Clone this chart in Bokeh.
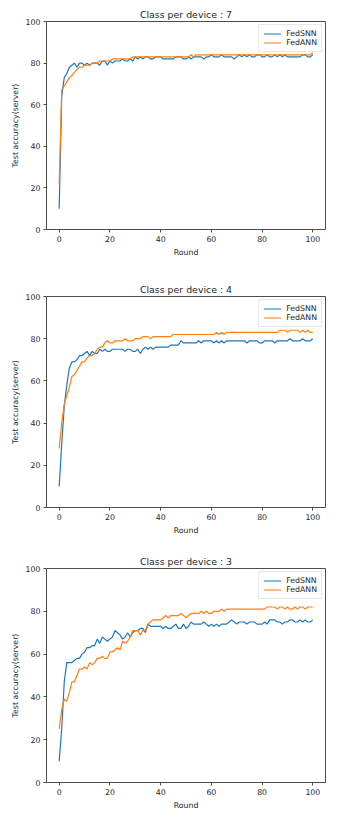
from bokeh.plotting import figure
from bokeh.layouts import column
from bokeh.models import Range1d, FixedTicker, Legend, LegendItem
from bokeh.embed import file_html
from bokeh.resources import INLINE

rounds = list(range(101))

snn_7 = [10, 64, 73, 75, 78, 79, 80, 78, 80, 80, 79, 80, 79, 80, 80, 80, 79, 81, 81, 79,
         81, 80, 81, 81, 81, 82, 81, 81, 82, 81, 83, 82, 83, 82, 83, 83, 82, 82, 83, 83,
         83, 82, 82, 82, 82, 82, 83, 83, 83, 82, 82, 83, 82, 83, 83, 83, 83, 82, 83, 83,
         84, 83, 83, 83, 84, 83, 83, 83, 83, 82, 83, 84, 83, 84, 83, 84, 83, 83, 84, 84,
         83, 83, 84, 83, 83, 84, 83, 84, 83, 84, 83, 83, 83, 83, 83, 83, 84, 84, 83, 83,
         84]
ann_7 = [22, 67, 69, 71, 73, 74, 75.5, 77, 78, 78, 79, 79, 79, 80, 80, 80, 81, 81, 81, 81,
         81, 82, 82, 82, 82, 82, 82, 82, 82, 83, 83, 83, 83, 83, 83, 83, 83, 83, 83, 83,
         83, 83, 83, 83, 83, 83, 83, 83, 83, 83, 83, 83, 84, 83, 84, 84, 84, 84, 84, 84,
         84, 84, 84, 84, 84, 84, 84, 84, 84, 84, 84, 84, 84, 84, 84, 84, 84, 84, 84, 84,
         84, 84, 84, 84, 84, 84, 84, 84, 84, 84, 84, 84, 84, 84, 84, 84, 84, 84, 84, 84,
         85]

snn_4 = [10, 30, 48, 58, 66, 69, 69, 70, 72, 72, 73, 74, 72, 74, 73, 73, 75, 74, 75, 74,
         74, 75, 75, 75, 75, 75, 74, 75, 75, 74, 74, 75, 73, 75, 76, 75, 76, 75, 76, 76,
         76, 76, 76, 76, 77, 77, 77, 77, 79, 78, 78, 78, 78, 78, 78, 79, 78, 79, 79, 79,
         79, 78, 79, 78, 79, 78, 79, 79, 79, 79, 79, 79, 79, 79, 78, 79, 79, 79, 79, 78,
         78, 79, 79, 79, 79, 78, 79, 79, 79, 79, 79, 80, 79, 79, 79, 79, 80, 79, 79, 79,
         80]
ann_4 = [28, 40, 49, 53, 57, 62, 63, 65, 67, 69, 69, 71, 72, 72, 73, 75, 76, 76, 78, 79,
         78, 78, 79, 79, 79, 79, 80, 79, 79, 79, 80, 80, 80, 81, 81, 81, 80, 81, 81, 81,
         81, 81, 81, 81, 81, 82, 82, 82, 82, 82, 82, 82, 82, 82, 82, 82, 82, 82, 82, 82,
         82, 82, 83, 82, 83, 82, 83, 83, 83, 83, 83, 83, 83, 83, 83, 83, 83, 83, 83, 83,
         83, 83, 83, 83, 83, 83, 83, 84, 84, 84, 83, 84, 84, 84, 84, 83, 84, 83, 84, 83,
         83]

snn_3 = [10, 25, 47, 56, 56, 56, 57, 58, 58, 60, 61, 63, 63, 64, 64, 67, 65, 68, 67, 66,
         67, 68, 71, 70, 69, 67, 68, 70, 68, 70, 71, 71, 72, 72, 70, 74, 73, 73, 73, 73,
         73, 72, 73, 72, 72, 73, 74, 72, 72, 74, 72, 73, 75, 74, 74, 74, 74, 75, 74, 73,
         74, 73, 74, 73, 74, 74, 74, 75, 76, 75, 74, 75, 75, 75, 74, 75, 75, 75, 74, 74,
         74, 75, 74, 76, 76, 76, 75, 75, 74, 75, 75, 76, 76, 75, 75, 76, 75, 76, 75, 75,
         76]
ann_3 = [25, 34, 39, 38, 42, 47, 47, 50, 53, 53, 54, 53, 56, 55, 56, 58, 58, 59, 58, 58,
         61, 61, 62, 63, 62, 66, 65, 66, 68, 71, 71, 71, 69, 71, 71, 74, 75, 76, 76, 76,
         76, 77, 78, 77, 78, 78, 78, 78, 79, 78, 77, 78, 79, 79, 79, 79, 80, 79, 80, 79,
         79, 80, 80, 80, 81, 80, 81, 81, 81, 81, 81, 81, 81, 81, 81, 81, 81, 81, 81, 81,
         81, 81, 82, 82, 82, 82, 81, 82, 82, 81, 82, 81, 81, 82, 81, 82, 82, 81, 82, 82,
         82]

titles = ["Class per device : 7", "Class per device : 4", "Class per device : 3"]
x_ticks = [0, 20, 40, 60, 80, 100]
y_ticks = [0, 20, 40, 60, 80, 100]
series_names = ["FedSNN", "FedANN"]

BLUE = "#1f77b4"
ORANGE = "#ff7f0e"
FONT = "DejaVu Sans"
TXT = "#262626"


def make_panel(title, snn, ann, h, bl, br, bt, bb):
    p = figure(width=347, height=h, output_backend="svg", toolbar_location=None,
               x_range=Range1d(-5, 105), y_range=Range1d(0, 100),
               min_border_left=bl, min_border_right=br, min_border_top=bt, min_border_bottom=bb,
               title=title)
    p.title.align = "center"
    p.title.text_font = FONT
    p.title.text_font_size = "9.4px"
    p.title.text_font_style = "normal"
    p.title.text_color = TXT
    p.title.standoff = 3
    p.title.offset = 0
    p.xgrid.visible = False
    p.ygrid.visible = False
    p.outline_line_color = "#4d4d4d"
    p.outline_line_width = 1
    p.outline_line_alpha = 1
    p.background_fill_color = "white"
    p.border_fill_color = "white"

    p.xaxis.ticker = FixedTicker(ticks=x_ticks)
    p.yaxis.ticker = FixedTicker(ticks=y_ticks)
    p.xaxis.axis_label = "Round"
    p.yaxis.axis_label = "Test accuracy(server)"
    for ax in (p.xaxis[0], p.yaxis[0]):
        ax.axis_line_color = None
        ax.major_tick_line_color = "#4d4d4d"
        ax.major_tick_out = 3
        ax.major_tick_in = 0
        ax.minor_tick_line_color = None
        ax.major_label_text_font = FONT
        ax.major_label_text_font_size = "7.8px"
        ax.major_label_text_color = TXT
        ax.major_label_standoff = 3
        ax.axis_label_text_font = FONT
        ax.axis_label_text_font_size = "7.8px"
        ax.axis_label_text_font_style = "normal"
        ax.axis_label_text_color = TXT
        ax.axis_label_standoff = 3

    r1 = p.line(rounds, snn, line_color=BLUE, line_width=1.2)
    r2 = p.line(rounds, ann, line_color=ORANGE, line_width=1.2)

    legend = Legend(items=[LegendItem(label=series_names[0], renderers=[r1]),
                           LegendItem(label=series_names[1], renderers=[r2])],
                    location="top_right")
    legend.label_text_font = FONT
    legend.label_text_font_size = "7.8px"
    legend.label_text_color = TXT
    legend.label_height = 9
    legend.glyph_height = 9
    legend.glyph_width = 18
    legend.label_standoff = 5
    legend.spacing = 0
    legend.padding = 4
    legend.margin = 3
    legend.border_line_color = "#d0d0d0"
    legend.border_line_width = 1
    legend.background_fill_alpha = 0.8
    p.add_layout(legend)
    return p


p1 = make_panel(titles[0], snn_7, ann_7, 270, 46, 22, 21, 41)
p2 = make_panel(titles[1], snn_4, ann_4, 270, 46, 18, 26, 33)
p3 = make_panel(titles[2], snn_3, ann_3, 275, 46, 16, 28, 33)

layout = column(p1, p2, p3, spacing=0)

open("out.html", "w").write(file_html(layout, INLINE))
